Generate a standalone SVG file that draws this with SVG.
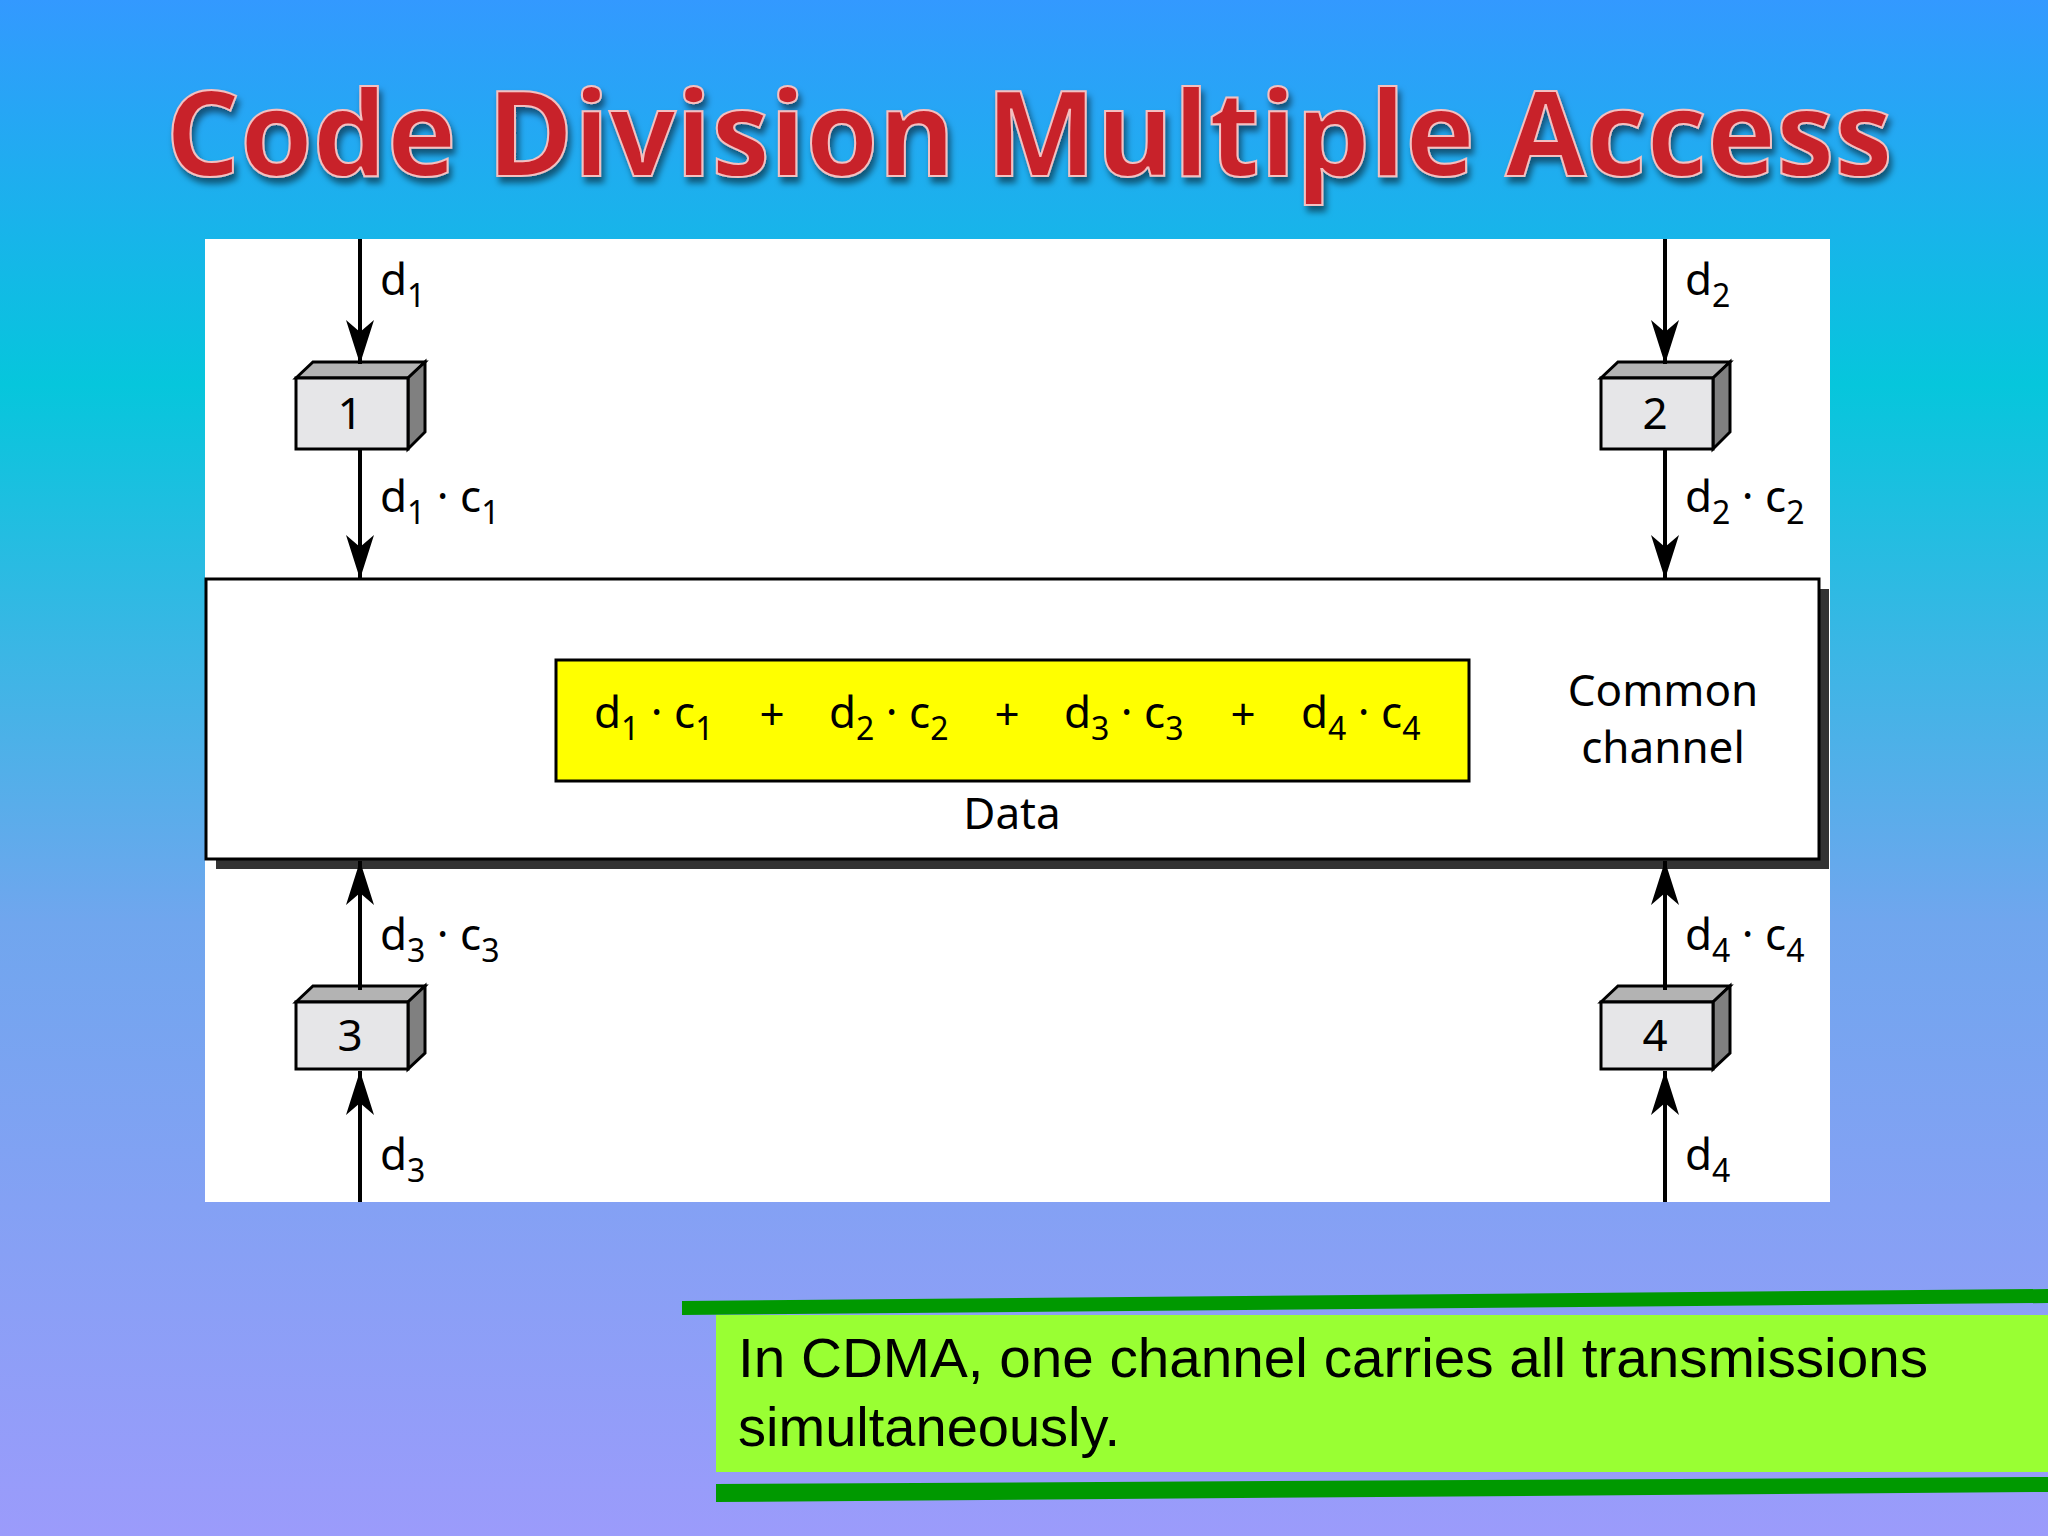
<svg xmlns="http://www.w3.org/2000/svg" width="2048" height="1536" viewBox="0 0 2048 1536">
<defs>
<linearGradient id="bg" x1="0" y1="0" x2="0" y2="1">
<stop offset="0" stop-color="#3399ff"/>
<stop offset="0.25" stop-color="#06c6dc"/>
<stop offset="0.6" stop-color="#70a6ee"/>
<stop offset="1" stop-color="#9b9bfb"/>
</linearGradient>
<marker id="ah" viewBox="0 0 44 28" refX="44" refY="14" markerWidth="44" markerHeight="28" markerUnits="userSpaceOnUse" orient="auto">
<path d="M0,0 L12,14 L0,28 L44,14 Z" fill="#000"/>
</marker>
<filter id="ts" x="-5%" y="-20%" width="110%" height="150%">
<feDropShadow dx="3" dy="6" stdDeviation="3" flood-color="#000" flood-opacity="0.5"/>
</filter>
</defs>
<style>
.lbl{font-family:"Noto Sans","Open Sans",sans-serif;font-size:44px;fill:#000}
.sub{font-size:32px}
.num{font-family:"Noto Sans","Open Sans",sans-serif;font-size:44px;text-anchor:middle}
.wire{stroke:#000;stroke-width:4;fill:none}
.front{fill:#e6e6e8;stroke:#000;stroke-width:3}
.top{fill:#b3b3b3;stroke:#000;stroke-width:3}
.side{fill:#808080;stroke:#000;stroke-width:3}
</style>
<rect width="2048" height="1536" fill="url(#bg)"/>
<text x="1029" y="176" font-family="Open Sans,Noto Sans,sans-serif" font-weight="bold" font-size="118" fill="#c8202a" stroke="#f4c0c0" stroke-width="2" text-anchor="middle" textLength="1727" lengthAdjust="spacingAndGlyphs" filter="url(#ts)">Code Division Multiple Access</text>
<rect x="205" y="239" width="1625" height="963" fill="#fff"/>
<g id="channel">
<rect x="216" y="589" width="1613" height="280" fill="#333"/>
<rect x="206" y="579" width="1613" height="280" fill="#fff" stroke="#000" stroke-width="3"/>
<rect x="556" y="660" width="913" height="121" fill="#ffff00" stroke="#000" stroke-width="3"/>
<text class="lbl" x="594" y="728">d<tspan class="sub" dy="12">1</tspan><tspan dy="-12"> · c</tspan><tspan class="sub" dy="12">1</tspan></text>
<text class="lbl" x="772" y="730" text-anchor="middle">+</text>
<text class="lbl" x="829" y="728">d<tspan class="sub" dy="12">2</tspan><tspan dy="-12"> · c</tspan><tspan class="sub" dy="12">2</tspan></text>
<text class="lbl" x="1007" y="730" text-anchor="middle">+</text>
<text class="lbl" x="1064" y="728">d<tspan class="sub" dy="12">3</tspan><tspan dy="-12"> · c</tspan><tspan class="sub" dy="12">3</tspan></text>
<text class="lbl" x="1243" y="730" text-anchor="middle">+</text>
<text class="lbl" x="1301" y="728">d<tspan class="sub" dy="12">4</tspan><tspan dy="-12"> · c</tspan><tspan class="sub" dy="12">4</tspan></text>
<text class="lbl" x="1012" y="829" text-anchor="middle">Data</text>
<text class="lbl" x="1663" y="706" text-anchor="middle">Common</text>
<text class="lbl" x="1663" y="763" text-anchor="middle">channel</text>
</g>
<g id="station1">
<polygon class="top" points="296,378 313,362 425,362 408,378"/><polygon class="side" points="408,378 425,362 425,432 408,449"/><rect class="front" x="296" y="378" width="112" height="71"/><text class="num" x="350" y="429">1</text>
</g>
<g id="station2">
<polygon class="top" points="1601,378 1618,362 1730,362 1713,378"/><polygon class="side" points="1713,378 1730,362 1730,432 1713,449"/><rect class="front" x="1601" y="378" width="112" height="71"/><text class="num" x="1655" y="429">2</text>
</g>
<g id="station3">
<polygon class="top" points="296,1002 313,986 425,986 408,1002"/><polygon class="side" points="408,1002 425,986 425,1053 408,1069"/><rect class="front" x="296" y="1002" width="112" height="67"/><text class="num" x="350" y="1051">3</text>
</g>
<g id="station4">
<polygon class="top" points="1601,1002 1618,986 1730,986 1713,1002"/><polygon class="side" points="1713,1002 1730,986 1730,1053 1713,1069"/><rect class="front" x="1601" y="1002" width="112" height="67"/><text class="num" x="1655" y="1051">4</text>
</g>
<g id="connectors">
<line class="wire" x1="360" y1="239" x2="360" y2="364" marker-end="url(#ah)"/>
<line class="wire" x1="360" y1="449" x2="360" y2="579" marker-end="url(#ah)"/>
<line class="wire" x1="1665" y1="239" x2="1665" y2="364" marker-end="url(#ah)"/>
<line class="wire" x1="1665" y1="449" x2="1665" y2="579" marker-end="url(#ah)"/>
<line class="wire" x1="360" y1="990" x2="360" y2="861" marker-end="url(#ah)"/>
<line class="wire" x1="360" y1="1202" x2="360" y2="1071" marker-end="url(#ah)"/>
<line class="wire" x1="1665" y1="990" x2="1665" y2="861" marker-end="url(#ah)"/>
<line class="wire" x1="1665" y1="1202" x2="1665" y2="1071" marker-end="url(#ah)"/>
<text class="lbl" x="380" y="295">d<tspan class="sub" dy="12">1</tspan></text>
<text class="lbl" x="1685" y="295">d<tspan class="sub" dy="12">2</tspan></text>
<text class="lbl" x="380" y="512">d<tspan class="sub" dy="12">1</tspan><tspan dy="-12"> · c</tspan><tspan class="sub" dy="12">1</tspan></text>
<text class="lbl" x="1685" y="512">d<tspan class="sub" dy="12">2</tspan><tspan dy="-12"> · c</tspan><tspan class="sub" dy="12">2</tspan></text>
<text class="lbl" x="380" y="950">d<tspan class="sub" dy="12">3</tspan><tspan dy="-12"> · c</tspan><tspan class="sub" dy="12">3</tspan></text>
<text class="lbl" x="1685" y="950">d<tspan class="sub" dy="12">4</tspan><tspan dy="-12"> · c</tspan><tspan class="sub" dy="12">4</tspan></text>
<text class="lbl" x="380" y="1170">d<tspan class="sub" dy="12">3</tspan></text>
<text class="lbl" x="1685" y="1170">d<tspan class="sub" dy="12">4</tspan></text>
</g>
<polygon points="682,1301 2048,1289 2048,1303 682,1315" fill="#009900"/>
<rect x="716" y="1315" width="1332" height="157" fill="#99ff33"/>
<polygon points="716,1484 2048,1477 2048,1492 716,1502" fill="#009900"/>
<text x="738" y="1377" font-family="Liberation Sans,Arial,sans-serif" font-size="56" fill="#000" textLength="1190" lengthAdjust="spacingAndGlyphs">In CDMA, one channel carries all transmissions</text>
<text x="738" y="1446" font-family="Liberation Sans,Arial,sans-serif" font-size="56" fill="#000" textLength="382" lengthAdjust="spacingAndGlyphs">simultaneously.</text>
</svg>
